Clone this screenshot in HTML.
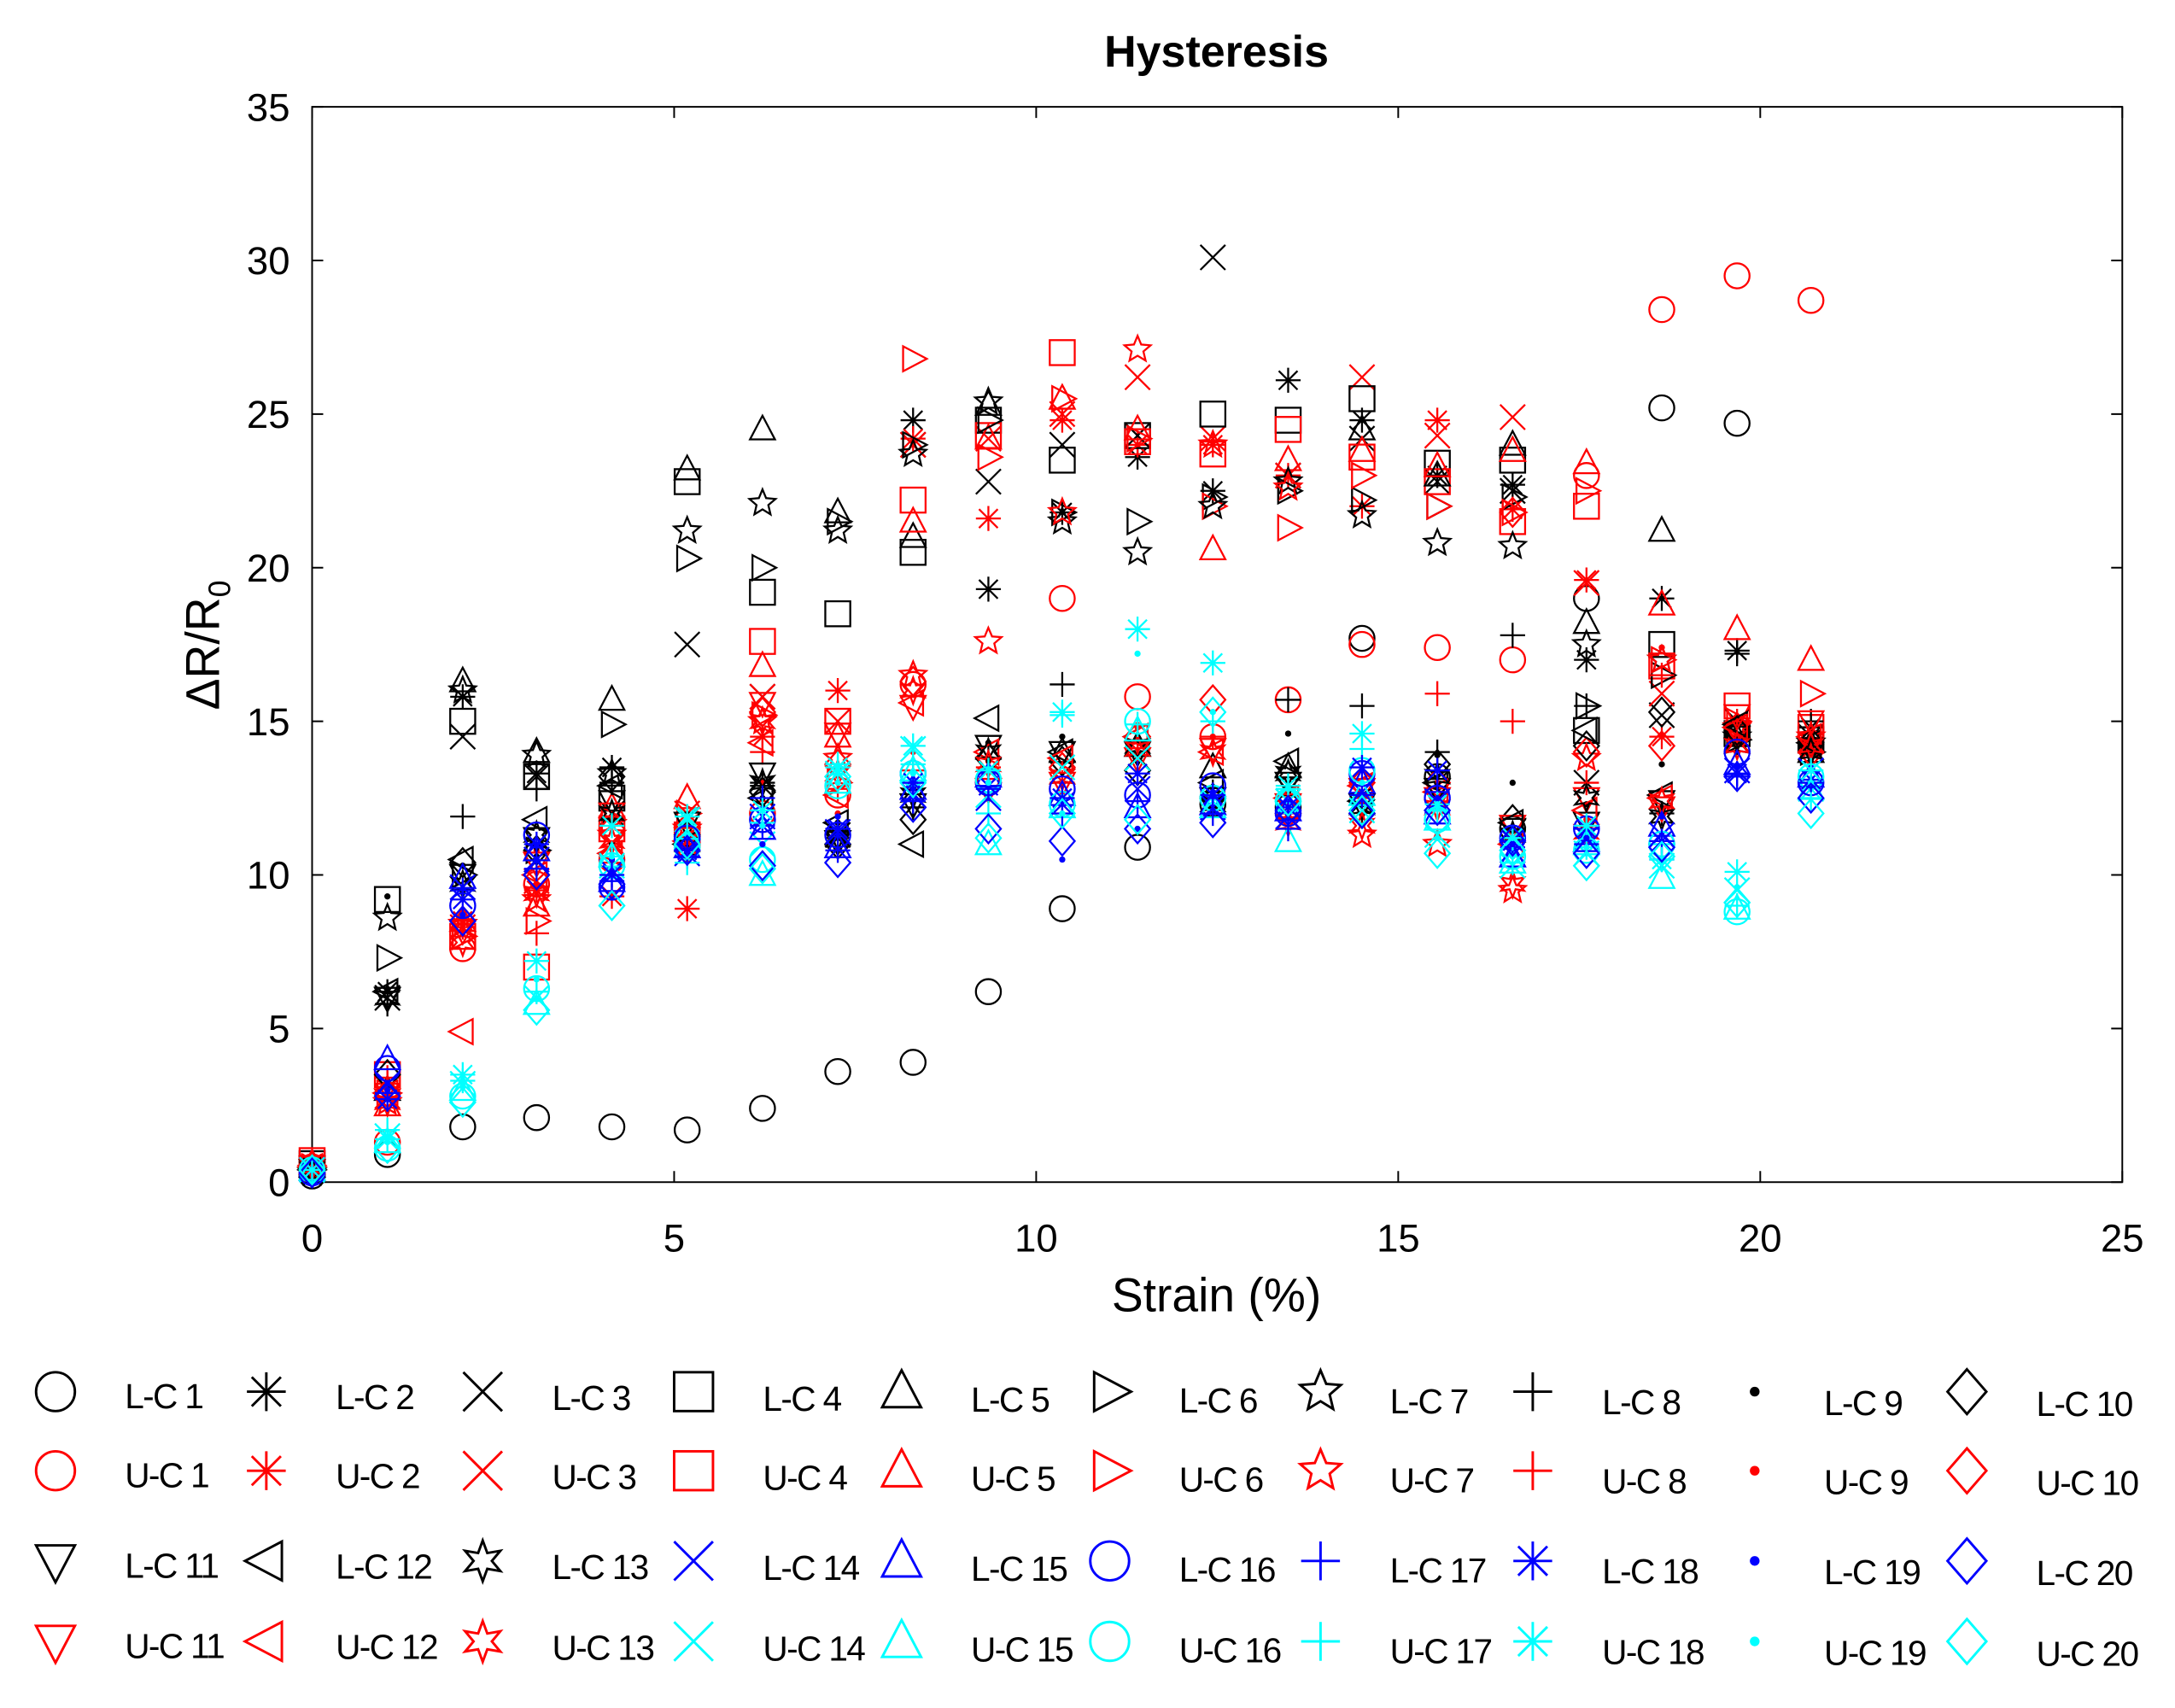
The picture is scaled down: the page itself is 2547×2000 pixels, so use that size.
<!DOCTYPE html>
<html><head><meta charset="utf-8"><style>
html,body{margin:0;padding:0;background:#fff}
svg{display:block}
text{font-family:"Liberation Sans",sans-serif}
</style></head><body>
<svg id="chart" width="2547" height="2000" viewBox="0 0 1568 1231" preserveAspectRatio="none" xmlns="http://www.w3.org/2000/svg">
<rect x="0" y="0" width="1568" height="1231" fill="#fff"/>
<text x="877" y="48" text-anchor="middle" font-size="32" font-weight="bold">Hysteresis</text>
<rect x="225" y="77" width="1305" height="775" fill="#fff" stroke="#000" stroke-width="1.2"/>
<g id="axes"></g>
<g id="marks"></g>
<text x="877" y="945" text-anchor="middle" font-size="34">Strain (%)</text>
<text transform="translate(158,465) rotate(-90)" text-anchor="middle" font-size="34">ΔR/R<tspan font-size="22" dy="8">0</tspan></text>
<g id="legend"></g>
</svg>
<script>
const strainValues=[0,1.04,2.08,3.1,4.14,5.18,6.22,7.26,8.3,9.34,10.36,11.4,12.44,13.48,14.5,15.54,16.58,17.6,18.64,19.68,20.7];
const xTicks=[0,5,10,15,20,25];
const yTicks=[0,5,10,15,20,25,30,35];
const lc1=[0.2,0.9,1.8,2.1,1.8,1.7,2.4,3.6,3.9,6.2,8.9,10.9,12.3,12.2,17.7,13.2,11.5,19.0,25.2,24.7,null];
const uc1=[0.5,1.3,7.6,9.7,10.5,11.0,12.0,12.6,16.2,13.0,19.0,15.8,14.5,15.7,17.5,17.4,17.0,23.0,28.4,29.5,28.7];
const lc2=[0.5,6.2,15.8,13.3,13.5,11.0,12.9,11.2,24.8,19.3,21.8,23.6,22.5,26.1,24.8,23.0,22.7,17.0,19.0,17.3,14.8];
const uc2=[0.6,3.2,8.5,9.5,9.3,8.9,14.5,16.0,24.2,21.6,24.8,24.0,24.0,23.0,22.0,24.8,21.9,19.6,14.5,14.5,14.2];
const lc3=[0.4,6.0,14.5,13.2,12.0,17.5,15.8,11.3,24.0,22.8,24.0,24.3,30.1,23.0,24.2,22.8,22.5,13.0,15.2,15.0,14.5];
const uc3=[0.5,2.8,8.3,9.8,11.0,12.0,15.8,15.0,24.0,24.2,25.0,26.2,24.2,23.0,26.2,24.3,24.9,19.5,15.9,14.4,14.1];
const lc4=[0.6,9.2,15.0,13.2,12.5,22.8,19.2,18.5,20.5,24.8,23.5,24.3,25.0,24.8,25.5,23.4,23.5,14.7,17.5,14.6,14.4];
const uc4=[0.7,3.5,8.0,7.0,11.5,11.3,17.6,15.0,22.2,24.3,27.0,24.1,23.7,24.5,23.6,22.8,21.5,22.0,16.8,15.5,14.8];
const lc5=[0.5,3.0,16.3,14.0,15.7,23.2,24.5,21.8,21.0,25.3,14.0,14.2,13.5,13.5,24.5,23.0,24.0,18.2,21.2,14.8,14.0];
const uc5=[0.6,2.5,8.5,9.0,12.2,12.5,16.8,14.5,21.5,24.2,25.5,24.5,20.6,23.5,23.8,23.3,23.8,23.4,18.8,18.0,17.0];
const lc6=[0.4,7.3,10.0,10.8,14.9,20.3,20.0,21.5,24.0,24.8,21.8,21.5,22.3,22.5,22.2,22.0,22.3,15.5,16.5,14.4,14.0];
const uc6=[0.5,2.9,8.0,8.5,11.8,12.0,15.2,13.0,26.8,23.6,25.5,24.2,22.0,21.3,23.0,22.0,21.8,22.5,17.0,15.0,15.9];
const lc7=[0.3,8.6,16.0,13.9,13.3,21.2,22.1,21.2,23.7,25.4,21.5,20.5,22.0,22.8,21.7,20.8,20.7,17.5,17.0,14.5,14.3];
const uc7=[0.4,2.6,8.4,9.2,11.3,11.5,15.0,13.8,16.5,17.6,21.8,27.1,24.0,22.6,11.3,11.0,9.5,13.8,17.0,14.8,14.5];
const lc8=[0.4,5.8,11.9,12.8,13.0,11.0,13.0,11.5,12.2,13.8,16.2,14.3,12.7,15.7,15.5,14.0,17.8,15.5,12.0,17.2,15.0];
const uc8=[0.5,3.4,8.3,8.1,10.4,11.0,14.0,12.8,13.4,13.5,13.0,14.0,14.5,12.0,12.5,15.9,15.0,13.0,16.5,15.0,14.6];
const lc9=[0.4,9.3,10.3,10.6,11.0,11.6,12.5,11.7,13.0,14.3,14.5,14.4,12.6,14.6,12.3,13.9,13.0,12.3,13.6,14.0,14.5];
const uc9=[0.5,3.0,8.8,10.8,11.8,11.7,13.0,12.0,14.0,13.7,13.6,14.8,14.5,12.5,12.4,13.0,11.0,11.8,17.4,14.3,14.1];
const lc10=[0.4,3.5,10.4,10.8,13.2,11.3,12.7,11.0,11.8,13.8,13.7,13.4,12.5,13.2,12.0,13.6,11.8,14.2,15.3,14.7,14.3];
const uc10=[0.5,2.9,8.5,10.0,11.5,11.0,15.3,13.6,16.3,13.0,13.5,14.5,15.7,12.0,13.0,13.0,21.8,14.0,14.2,14.8,14.0];
const lc11=[0.4,6.0,10.0,11.2,12.4,11.7,13.3,11.1,12.3,14.2,14.0,14.0,12.5,13.0,12.3,12.8,11.5,11.7,12.4,14.5,14.1];
const uc11=[0.5,2.7,8.2,10.4,12.0,11.2,15.6,14.6,15.5,12.8,13.0,13.8,14.1,12.3,12.8,12.5,11.6,12.5,12.2,15.2,15.0];
const lc12=[0.4,6.2,10.5,11.8,12.9,11.0,12.5,11.7,11.0,15.1,14.0,14.5,13.0,13.7,12.4,13.0,11.7,14.7,12.6,14.9,14.3];
const uc12=[0.5,2.9,4.9,10.0,10.7,11.1,14.3,12.6,15.6,14.0,13.8,14.5,14.0,12.5,12.9,12.7,11.0,12.1,12.5,14.8,14.5];
const lc13=[0.4,6.0,9.7,11.3,12.0,11.0,13.0,11.2,12.6,14.0,13.2,14.2,12.3,13.3,12.2,13.2,11.3,12.5,11.9,14.2,14.0];
const uc13=[0.5,2.6,7.8,9.4,11.1,10.8,15.0,13.3,16.0,13.6,13.2,14.1,14.0,11.7,11.6,12.2,9.7,11.4,12.4,14.2,14.2];
const lc14=[0.4,3.2,9.6,10.5,10.1,10.7,11.9,11.4,12.6,12.5,12.3,12.8,12.2,11.9,12.7,12.4,10.8,11.2,11.3,13.4,13.4];
const uc14=[0.4,1.5,3.2,6.0,10.3,11.8,11.0,13.3,14.1,12.6,13.5,13.8,12.4,12.4,12.1,11.3,10.3,10.7,10.3,9.5,12.8];
const lc15=[0.4,4.0,9.9,10.8,9.8,10.9,11.5,10.9,12.8,13.2,12.6,12.2,12.3,12.1,13.0,12.0,10.6,11.1,11.6,13.6,13.2];
const uc15=[0.4,1.3,3.0,5.8,10.6,11.5,10.0,13.0,13.4,11.0,12.2,14.7,12.2,11.1,12.6,11.8,10.4,11.0,9.9,8.9,12.8];
const lc16=[0.3,3.7,9.0,11.3,9.6,11.2,11.8,11.3,13.3,13.0,12.8,12.6,12.9,12.0,13.3,12.5,11.2,11.5,11.0,14.0,13.0];
const uc16=[0.4,1.1,2.8,6.3,10.3,10.9,10.5,12.9,13.3,13.1,12.3,15.0,12.5,12.4,13.4,11.8,10.6,10.8,11.0,8.8,13.2];
const lc17=[0.4,2.9,9.5,10.2,9.8,10.6,12.5,10.8,12.4,12.8,12.0,12.4,12.0,11.5,12.6,12.7,10.9,11.0,10.5,13.2,13.0];
const uc17=[0.4,1.7,3.3,6.2,10.6,10.4,11.7,13.6,13.6,12.0,15.2,14.9,15.0,12.8,14.1,12.1,10.4,10.9,11.0,9.0,12.5];
const lc18=[0.4,2.7,9.2,11.0,10.0,10.8,11.6,11.5,13.0,12.9,12.5,13.3,12.6,12.2,13.5,13.4,11.1,11.5,11.1,13.3,13.1];
const uc18=[0.4,1.4,3.5,7.2,11.6,11.9,12.1,13.5,14.2,13.4,15.3,18.0,16.9,12.9,14.6,12.3,11.2,11.6,10.5,10.1,13.4];
const lc19=[0.4,3.0,8.7,10.5,10.5,11.2,11.0,11.9,12.8,13.0,10.5,11.5,12.7,12.0,12.5,12.5,11.0,11.2,11.9,13.5,12.9];
const uc19=[0.4,1.3,3.1,6.6,10.6,11.3,11.6,13.0,13.3,13.0,12.0,17.2,15.3,12.8,13.0,11.2,10.6,10.9,10.4,9.6,13.0];
const lc20=[0.3,2.8,8.5,10.0,9.7,10.8,10.3,10.4,12.2,11.5,11.1,11.5,11.7,12.1,12.0,12.1,11.1,10.7,10.9,13.2,12.5];
const uc20=[0.4,1.1,2.6,5.6,9.0,11.0,10.2,13.2,13.0,11.2,12.0,11.8,15.3,12.4,12.1,10.7,10.8,10.3,10.6,9.1,12.0];
const seriesNames=["L-C 1","U-C 1","L-C 2","U-C 2","L-C 3","U-C 3","L-C 4","U-C 4","L-C 5","U-C 5","L-C 6","U-C 6","L-C 7","U-C 7","L-C 8","U-C 8","L-C 9","U-C 9","L-C 10","U-C 10","L-C 11","U-C 11","L-C 12","U-C 12","L-C 13","U-C 13","L-C 14","U-C 14","L-C 15","U-C 15","L-C 16","U-C 16","L-C 17","U-C 17","L-C 18","U-C 18","L-C 19","U-C 19","L-C 20","U-C 20"];
const seriesData=[lc1,uc1,lc2,uc2,lc3,uc3,lc4,uc4,lc5,uc5,lc6,uc6,lc7,uc7,lc8,uc8,lc9,uc9,lc10,uc10,lc11,uc11,lc12,uc12,lc13,uc13,lc14,uc14,lc15,uc15,lc16,uc16,lc17,uc17,lc18,uc18,lc19,uc19,lc20,uc20];

const NS="http://www.w3.org/2000/svg";
const X0=225,X1=1530,Y0=852,Y1=77;
function xScale(v){return X0+(v-0)/(25-0)*(X1-X0);}
function yScale(v){return Y0-(v-0)/(35-0)*(Y0-Y1);}
function mk(tag,attrs,parent){const e=document.createElementNS(NS,tag);for(const k in attrs)e.setAttribute(k,attrs[k]);parent.appendChild(e);return e;}
const shapes=["circle","asterisk","x","square","tri-up","tri-right","pentagram","plus","dot","diamond","tri-down","tri-left","hexagram","x","tri-up","circle","plus","asterisk","dot","diamond"];
function colorOf(idx){const n=Math.floor(idx/2),u=idx%2;if(n<13)return u?"#ff0000":"#000000";return u?"#00ffff":"#0000ff";}
function starPts(cx,cy,r,n){let p=[];for(let k=0;k<2*n;k++){const a=-Math.PI/2+k*Math.PI/n;const rr=k%2?r*0.45:r;p.push((cx+rr*Math.cos(a)).toFixed(1)+","+(cy+rr*Math.sin(a)).toFixed(1));}return p.join(" ");}
function drawMarker(g,shape,cx,cy,r,col,sw){
  const st={fill:"none",stroke:col,"stroke-width":sw};
  let d;
  switch(shape){
    case "circle":mk("circle",Object.assign({cx:cx,cy:cy,r:r},st),g);break;
    case "square":mk("rect",Object.assign({x:cx-r,y:cy-r,width:2*r,height:2*r},st),g);break;
    case "diamond":mk("polygon",Object.assign({points:`${cx},${cy-r*1.15} ${cx+r},${cy} ${cx},${cy+r*1.15} ${cx-r},${cy}`},st),g);break;
    case "tri-up":mk("polygon",Object.assign({points:`${cx},${cy-r*1.1} ${cx+r},${cy+r*0.8} ${cx-r},${cy+r*0.8}`},st),g);break;
    case "tri-down":mk("polygon",Object.assign({points:`${cx},${cy+r*1.1} ${cx+r},${cy-r*0.8} ${cx-r},${cy-r*0.8}`},st),g);break;
    case "tri-right":mk("polygon",Object.assign({points:`${cx+r*1.1},${cy} ${cx-r*0.8},${cy-r} ${cx-r*0.8},${cy+r}`},st),g);break;
    case "tri-left":mk("polygon",Object.assign({points:`${cx-r*1.1},${cy} ${cx+r*0.8},${cy-r} ${cx+r*0.8},${cy+r}`},st),g);break;
    case "pentagram":mk("polygon",Object.assign({points:starPts(cx,cy,r*1.1,5)},st),g);break;
    case "hexagram":mk("polygon",Object.assign({points:starPts(cx,cy,r*1.05,6).replace(/,/g,",")},st),g);break;
    case "plus":d=`M${cx-r},${cy}H${cx+r}M${cx},${cy-r}V${cy+r}`;mk("path",Object.assign({d:d},st),g);break;
    case "x":d=`M${cx-r},${cy-r}L${cx+r},${cy+r}M${cx-r},${cy+r}L${cx+r},${cy-r}`;mk("path",Object.assign({d:d},st),g);break;
    case "asterisk":{const a=r*0.75;d=`M${cx-r},${cy}H${cx+r}M${cx},${cy-r}V${cy+r}M${cx-a},${cy-a}L${cx+a},${cy+a}M${cx-a},${cy+a}L${cx+a},${cy-a}`;mk("path",Object.assign({d:d},st),g);break;}
    case "dot":mk("circle",{cx:cx,cy:cy,r:Math.max(2,r*0.25),fill:col},g);break;
  }
}
// axes ticks + labels
const axes=document.getElementById("axes");
xTicks.forEach(t=>{const x=xScale(t);
  mk("path",{d:`M${x},${Y0}V${Y0-8}M${x},${Y1}V${Y1+8}`,stroke:"#000","stroke-width":1.2},axes);
  const tx=mk("text",{x:x,y:Y0+50,"text-anchor":"middle","font-size":28},axes);tx.textContent=t;
  
  
});
yTicks.forEach(t=>{const y=yScale(t);
  mk("path",{d:`M${X0},${y}H${X0+8}M${X1},${y}H${X1-8}`,stroke:"#000","stroke-width":1.2},axes);
  const ty=mk("text",{x:X0-16,y:y+10,"text-anchor":"end","font-size":28},axes);ty.textContent=t;
  
  
});
// marks
const marks=document.getElementById("marks");
seriesData.forEach((arr,idx)=>{
  const g=mk("g",{},marks);
  
  
  const sh=shapes[Math.floor(idx/2)],col=colorOf(idx);
  arr.forEach((v,i)=>{if(v==null)return;drawMarker(g,sh,xScale(strainValues[i]),yScale(v),9,col,1.4);});
});
// legend
const leg=document.getElementById("legend");
const colX=[40,192,348,500,650,800,952,1105,1265,1418];
const rowY=[1003,1060,1125,1183];
seriesNames.forEach((name,idx)=>{
  const n=Math.floor(idx/2),u=idx%2;
  const col=n%10,row=(n<10?0:2)+u;
  const g=mk("g",{},leg);
  
  
  const mx=colX[col],my=rowY[row];
  drawMarker(g,shapes[n],mx,my,14,colorOf(idx),1.8);
  const t=mk("text",{x:mx+50,y:my+12+col*0.6,"font-size":25,"letter-spacing":"-1"},g);
  t.textContent=name;
});
</script>
</body></html>
